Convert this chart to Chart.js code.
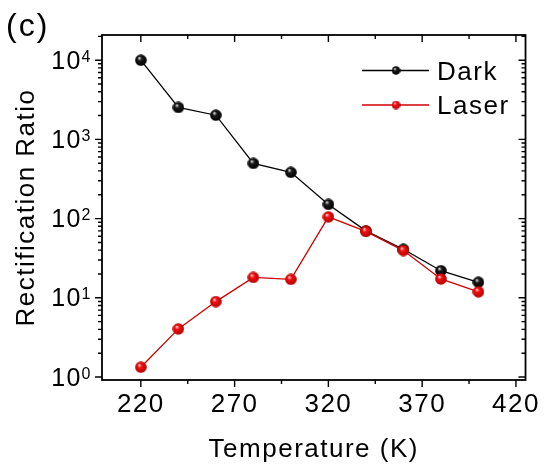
<!DOCTYPE html>
<html>
<head>
<meta charset="utf-8">
<script src="https://cdn.jsdelivr.net/npm/chart.js@4/dist/chart.umd.min.js"></script>
<style>
  html, body { margin: 0; padding: 0; background: #fff; }
</style>
</head>
<body>
<canvas id="chart" width="547" height="472"></canvas>
<script>
// Rectification ratio vs temperature, dark and under laser illumination
const temperatures = [220, 240, 260, 280, 300, 320, 340, 360, 380, 400];
const darkRatio    = [10000, 2530, 2020, 498, 384, 151, 70, 41, 22, 15.7];
const laserRatio   = [1.33, 4.05, 8.96, 18.1, 17.1, 105, 69, 39.5, 17.3, 11.9];
const seriesNames  = ['Dark', 'Laser'];
const xTickValues  = [220, 270, 320, 370, 420];
const xMinorValues = [245, 295, 345, 395];
const yDecades     = [0, 1, 2, 3, 4];
const panelLabel   = '(c)';

const FONT = 'Liberation Sans, Arial, sans-serif';
const SPACING = '1.5px';

// shaded ball used as the point marker
function ball(d, hi, mid, lo) {
  const c = document.createElement('canvas');
  c.width = c.height = d;
  const g = c.getContext('2d');
  const r = d / 2;
  const grad = g.createRadialGradient(r * 0.72, r * 0.62, r * 0.05, r, r, r);
  grad.addColorStop(0, hi);
  grad.addColorStop(0.32, mid);
  grad.addColorStop(1, lo);
  g.fillStyle = grad;
  g.beginPath();
  g.arc(r, r, r - 0.2, 0, Math.PI * 2);
  g.fill();
  return c;
}
const darkBall   = ball(12, '#e0e0e0', '#1a1a1a', '#000000');
const laserBall  = ball(12, '#ffd8d8', '#f41010', '#b00000');
const darkBallS  = ball(9,  '#e0e0e0', '#1a1a1a', '#000000');
const laserBallS = ball(9,  '#ffd8d8', '#f41010', '#b00000');

const toPoints = ys => temperatures.map((t, i) => ({ x: t, y: ys[i] }));

const framePlugin = {
  id: 'frame',
  beforeDraw(chart) {
    chart.ctx.letterSpacing = SPACING;
  },
  beforeDatasetsDraw(chart) {
    const { ctx, chartArea: a, scales: { x, y } } = chart;
    ctx.save();
    ctx.strokeStyle = '#000';
    ctx.lineWidth = 1.8;
    ctx.strokeRect(a.left, a.top, a.right - a.left, a.bottom - a.top);
    ctx.lineWidth = 1.4;
    ctx.beginPath();
    const hTick = (v, len) => {
      const px = x.getPixelForValue(v);
      ctx.moveTo(px, a.bottom); ctx.lineTo(px, a.bottom + len);   // outward
      ctx.moveTo(px, a.top);    ctx.lineTo(px, a.top + len);      // inward
    };
    xTickValues.forEach(v => hTick(v, 7));
    xMinorValues.forEach(v => hTick(v, 4));
    const vTick = (v, len) => {
      const py = y.getPixelForValue(v);
      ctx.moveTo(a.left, py);  ctx.lineTo(a.left - len, py);      // outward
      ctx.moveTo(a.right, py); ctx.lineTo(a.right - len, py);     // inward
    };
    yDecades.forEach(e => {
      vTick(Math.pow(10, e), 7);
      for (let m = 2; m <= 9; m++) {
        const v = m * Math.pow(10, e);
        if (v < y.max) vTick(v, 4);
      }
    });
    ctx.stroke();
    ctx.restore();
  },
  afterDraw(chart) {
    const { ctx, scales: { y } } = chart;
    ctx.save();
    ctx.fillStyle = '#000';
    ctx.letterSpacing = SPACING;
    // decade labels 10^n
    yDecades.forEach(e => {
      const py = y.getPixelForValue(Math.pow(10, e));
      ctx.font = `25px ${FONT}`;
      ctx.textAlign = 'right';
      ctx.textBaseline = 'alphabetic';
      ctx.fillText('10', 82, py + 8.5);
      ctx.font = `16px ${FONT}`;
      ctx.textAlign = 'left';
      ctx.fillText(String(e), 81.5, py + 1.5);
    });
    // legend
    const rows = [
      { name: seriesNames[0], color: '#000', mark: darkBallS, y: 70.5 },
      { name: seriesNames[1], color: '#d00000', mark: laserBallS, y: 105 }
    ];
    rows.forEach(r => {
      ctx.strokeStyle = r.color;
      ctx.lineWidth = 1.4;
      ctx.beginPath();
      ctx.moveTo(362, r.y); ctx.lineTo(429, r.y);
      ctx.stroke();
      ctx.drawImage(r.mark, 396 - r.mark.width / 2, r.y - r.mark.height / 2);
      ctx.font = `26px ${FONT}`;
      ctx.textAlign = 'left';
      ctx.textBaseline = 'alphabetic';
      ctx.fillText(r.name, 437, r.y + 9);
    });
    // panel letter
    ctx.font = `32px ${FONT}`;
    ctx.letterSpacing = '2px';
    ctx.fillText(panelLabel, 6, 36);
    ctx.restore();
  }
};

new Chart(document.getElementById('chart'), {
  type: 'line',
  data: {
    datasets: [
      {
        label: seriesNames[0],
        data: toPoints(darkRatio),
        borderColor: '#000',
        borderWidth: 1.3,
        pointStyle: darkBall,
        pointRadius: 6,
        tension: 0,
        order: 1
      },
      {
        label: seriesNames[1],
        data: toPoints(laserRatio),
        borderColor: '#d00000',
        borderWidth: 1.3,
        pointStyle: laserBall,
        pointRadius: 6,
        tension: 0,
        order: 0
      }
    ]
  },
  options: {
    responsive: false,
    animation: false,
    events: [],
    layout: { padding: { top: 35, right: 16, left: 0, bottom: 0 } },
    plugins: { legend: { display: false }, tooltip: { enabled: false } },
    scales: {
      x: {
        type: 'linear',
        min: 199.3,
        max: 425.1,
        afterBuildTicks: s => { s.ticks = xTickValues.map(v => ({ value: v })); },
        grid: { display: false, drawTicks: false },
        border: { display: false },
        ticks: {
          color: '#000',
          font: { family: FONT, size: 26 },
          padding: 9,
          maxRotation: 0,
          autoSkip: false
        },
        title: {
          display: true,
          text: 'Temperature (K)',
          color: '#000',
          font: { family: FONT, size: 26 },
          padding: { top: 0, bottom: 7 }
        },
        afterFit: s => { s.height = 92; }
      },
      y: {
        type: 'logarithmic',
        min: 0.917,
        max: 20800,
        afterBuildTicks: s => { s.ticks = yDecades.map(e => ({ value: Math.pow(10, e) })); },
        grid: { display: false, drawTicks: false },
        border: { display: false },
        ticks: { display: false },
        title: {
          display: true,
          text: 'Rectification Ratio',
          color: '#000',
          font: { family: FONT, size: 26 },
          padding: { top: 11.4, bottom: 0 }
        },
        afterFit: s => { s.width = 102; }
      }
    }
  },
  plugins: [framePlugin]
});
</script>
</body>
</html>
